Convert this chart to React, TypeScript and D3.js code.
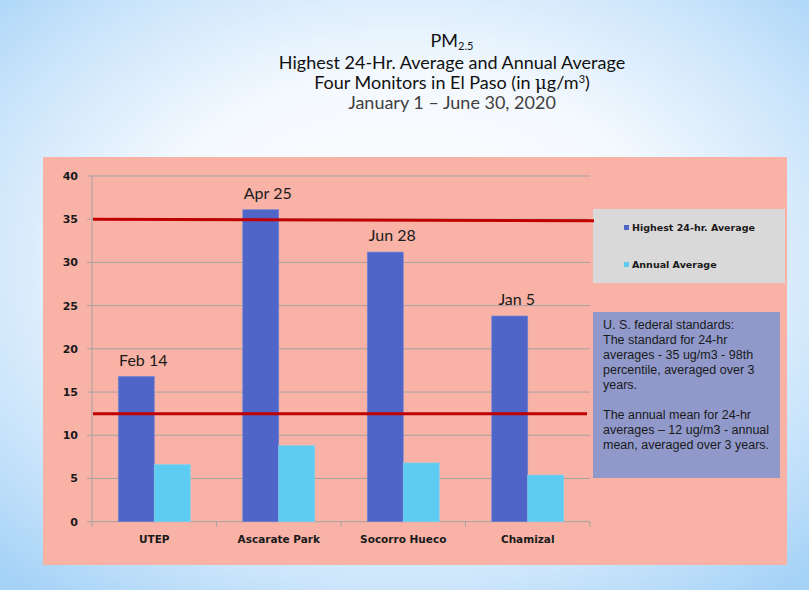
import React from "react";
import * as d3 from "d3";

const categories = ["UTEP", "Ascarate Park", "Socorro Hueco", "Chamizal"];
const highest24hr = [16.8, 36.1, 31.2, 23.8];
const annualAvg = [6.6, 8.8, 6.8, 5.4];
const peakDates = ["Feb 14", "Apr 25", "Jun 28", "Jan 5"];
const yTicks = [0, 5, 10, 15, 20, 25, 30, 35, 40];
const standard24hr = 35;
const standardAnnual = 12.5;
const seriesNames = ["Highest 24-hr. Average", "Annual Average"];
const noteLines = [
  "U. S. federal standards:",
  "The standard for 24-hr",
  "averages - 35 ug/m3 - 98th",
  "percentile, averaged over 3",
  "years.",
  "",
  "The annual mean for 24-hr",
  "averages \u2013 12 ug/m3 - annual",
  "mean, averaged over 3 years.",
];

const W = 809;
const H = 590;
const DARK = "#4f66c8";
const LIGHT = "#5ecbf0";
const RED = "#c00000";

export default function App() {
  const x = d3.scaleBand<string>().domain(categories).range([92, 590]).paddingInner(0).paddingOuter(0);
  const inner = d3.scaleBand<string>().domain(["h", "a"]).range([0, x.bandwidth()]).paddingInner(0).paddingOuter(0.73);
  const y = d3.scaleLinear().domain([0, 40]).range([521.7, 176]);
  const bw = inner.bandwidth();
  const labelFont = "'DejaVu Sans', Verdana, sans-serif";
  const titleFont = "Lato, 'Open Sans', sans-serif";

  return (
    <svg
      width={W}
      height={H}
      viewBox={`0 0 ${W} ${H}`}
      style={{ position: "absolute", left: 0, top: 0, display: "block" }}
    >
      <defs>
        <radialGradient id="bg" cx="0.5" cy="0.45" r="0.72">
          <stop offset="0" stopColor="#ffffff" />
          <stop offset="0.45" stopColor="#f4f9fe" />
          <stop offset="0.75" stopColor="#cde6fb" />
          <stop offset="1" stopColor="#a5d2f7" />
        </radialGradient>
      </defs>
      <rect x={0} y={0} width={W} height={H} fill="url(#bg)" />

      {/* Title */}
      <g fontFamily={titleFont} textAnchor="middle" fill="#111">
        <text x={452} y={47} fontSize={18}>
          PM<tspan fontSize={11} dy={3}>2.5</tspan>
        </text>
        <text x={452} y={69} fontSize={18}>
          Highest 24-Hr. Average and Annual Average
        </text>
        <text x={452} y={89} fontSize={18}>
          Four Monitors in El Paso (in <tspan fontFamily="'DejaVu Serif', serif">{"\u03bc"}</tspan>g/m
          <tspan fontSize={11} dy={-6}>3</tspan>
          <tspan dy={6}>)</tspan>
        </text>
        <text x={452} y={109} fontSize={18} fill="#404040">
          {"January 1 \u2013 June 30, 2020"}
        </text>
      </g>

      {/* Pink panel */}
      <rect x={43} y={157} width={744} height={408} fill="#f9b2a6" />

      {/* Gridlines */}
      <g>
        {yTicks.map((t) => (
          <line key={t} x1={87} x2={590} y1={y(t)} y2={y(t)} stroke="#a3a3a3" strokeWidth={1} />
        ))}
        <line x1={92} x2={92} y1={y(40)} y2={y(0)} stroke="#a3a3a3" strokeWidth={1} />
        {[...categories.map((c) => x(c) as number), 590].map((v, i) => (
          <line key={i} x1={v} x2={v} y1={y(0)} y2={y(0) + 5} stroke="#a3a3a3" strokeWidth={1} />
        ))}
      </g>

      {/* Y tick labels */}
      <g fontFamily={labelFont} fontWeight="bold" fontSize={11} fill="#1a1a1a" textAnchor="end">
        {yTicks.map((t) => (
          <text key={t} x={78} y={y(t)} dy="0.36em">
            {t}
          </text>
        ))}
      </g>

      {/* Bars */}
      <g>
        {categories.map((c, i) => {
          const x0 = x(c) as number;
          return (
            <g key={c}>
              <rect
                x={x0 + (inner("h") as number)}
                y={y(highest24hr[i])}
                width={bw}
                height={y(0) - y(highest24hr[i])}
                fill={DARK}
                stroke="#6f84d8"
                strokeWidth={0.6}
              />
              <rect
                x={x0 + (inner("a") as number)}
                y={y(annualAvg[i])}
                width={bw}
                height={y(0) - y(annualAvg[i])}
                fill={LIGHT}
                stroke="#7fd6f3"
                strokeWidth={0.6}
              />
            </g>
          );
        })}
      </g>

      {/* Peak date labels */}
      <g fontFamily={titleFont} fontSize={16} fill="#1a1a1a" textAnchor="middle">
        {categories.map((c, i) => (
          <text key={c} x={(x(c) as number) + (inner("h") as number) + bw / 2 + 7} y={y(highest24hr[i]) - 11}>
            {peakDates[i]}
          </text>
        ))}
      </g>

      {/* Category labels */}
      <g fontFamily={labelFont} fontWeight="bold" fontSize={10.5} fill="#1a1a1a" textAnchor="middle">
        {categories.map((c) => (
          <text key={c} x={(x(c) as number) + x.bandwidth() / 2} y={543}>
            {c}
          </text>
        ))}
      </g>

      {/* Legend box */}
      <rect x={593} y={209} width={192} height={74} fill="#d9d9d9" />
      <g fontFamily={labelFont} fontWeight="bold" fontSize={9.5} fill="#1a1a1a">
        {seriesNames.map((s, i) => (
          <g key={s} transform={`translate(624, ${i === 0 ? 228 : 265})`}>
            <rect x={0} y={-3} width={5} height={5} fill={i === 0 ? DARK : LIGHT} />
            <text x={8} y={0} dy="0.35em">
              {s}
            </text>
          </g>
        ))}
      </g>

      {/* Standards lines */}
      <line x1={93} x2={594} y1={y(standard24hr)} y2={y(standard24hr) + 1.5} stroke={RED} strokeWidth={3} />
      <line x1={93} x2={587} y1={y(standardAnnual)} y2={y(standardAnnual)} stroke={RED} strokeWidth={3} />

      {/* Note box */}
      <rect x={593} y={312} width={187} height={166} fill="#9199cb" />
      <g fontFamily="'Liberation Sans', Arial, sans-serif" fontSize={12.5} fill="#1a1a1a">
        {noteLines.map((l, i) => (
          <text key={i} x={603} y={328.5 + i * 15}>
            {l}
          </text>
        ))}
      </g>
    </svg>
  );
}
